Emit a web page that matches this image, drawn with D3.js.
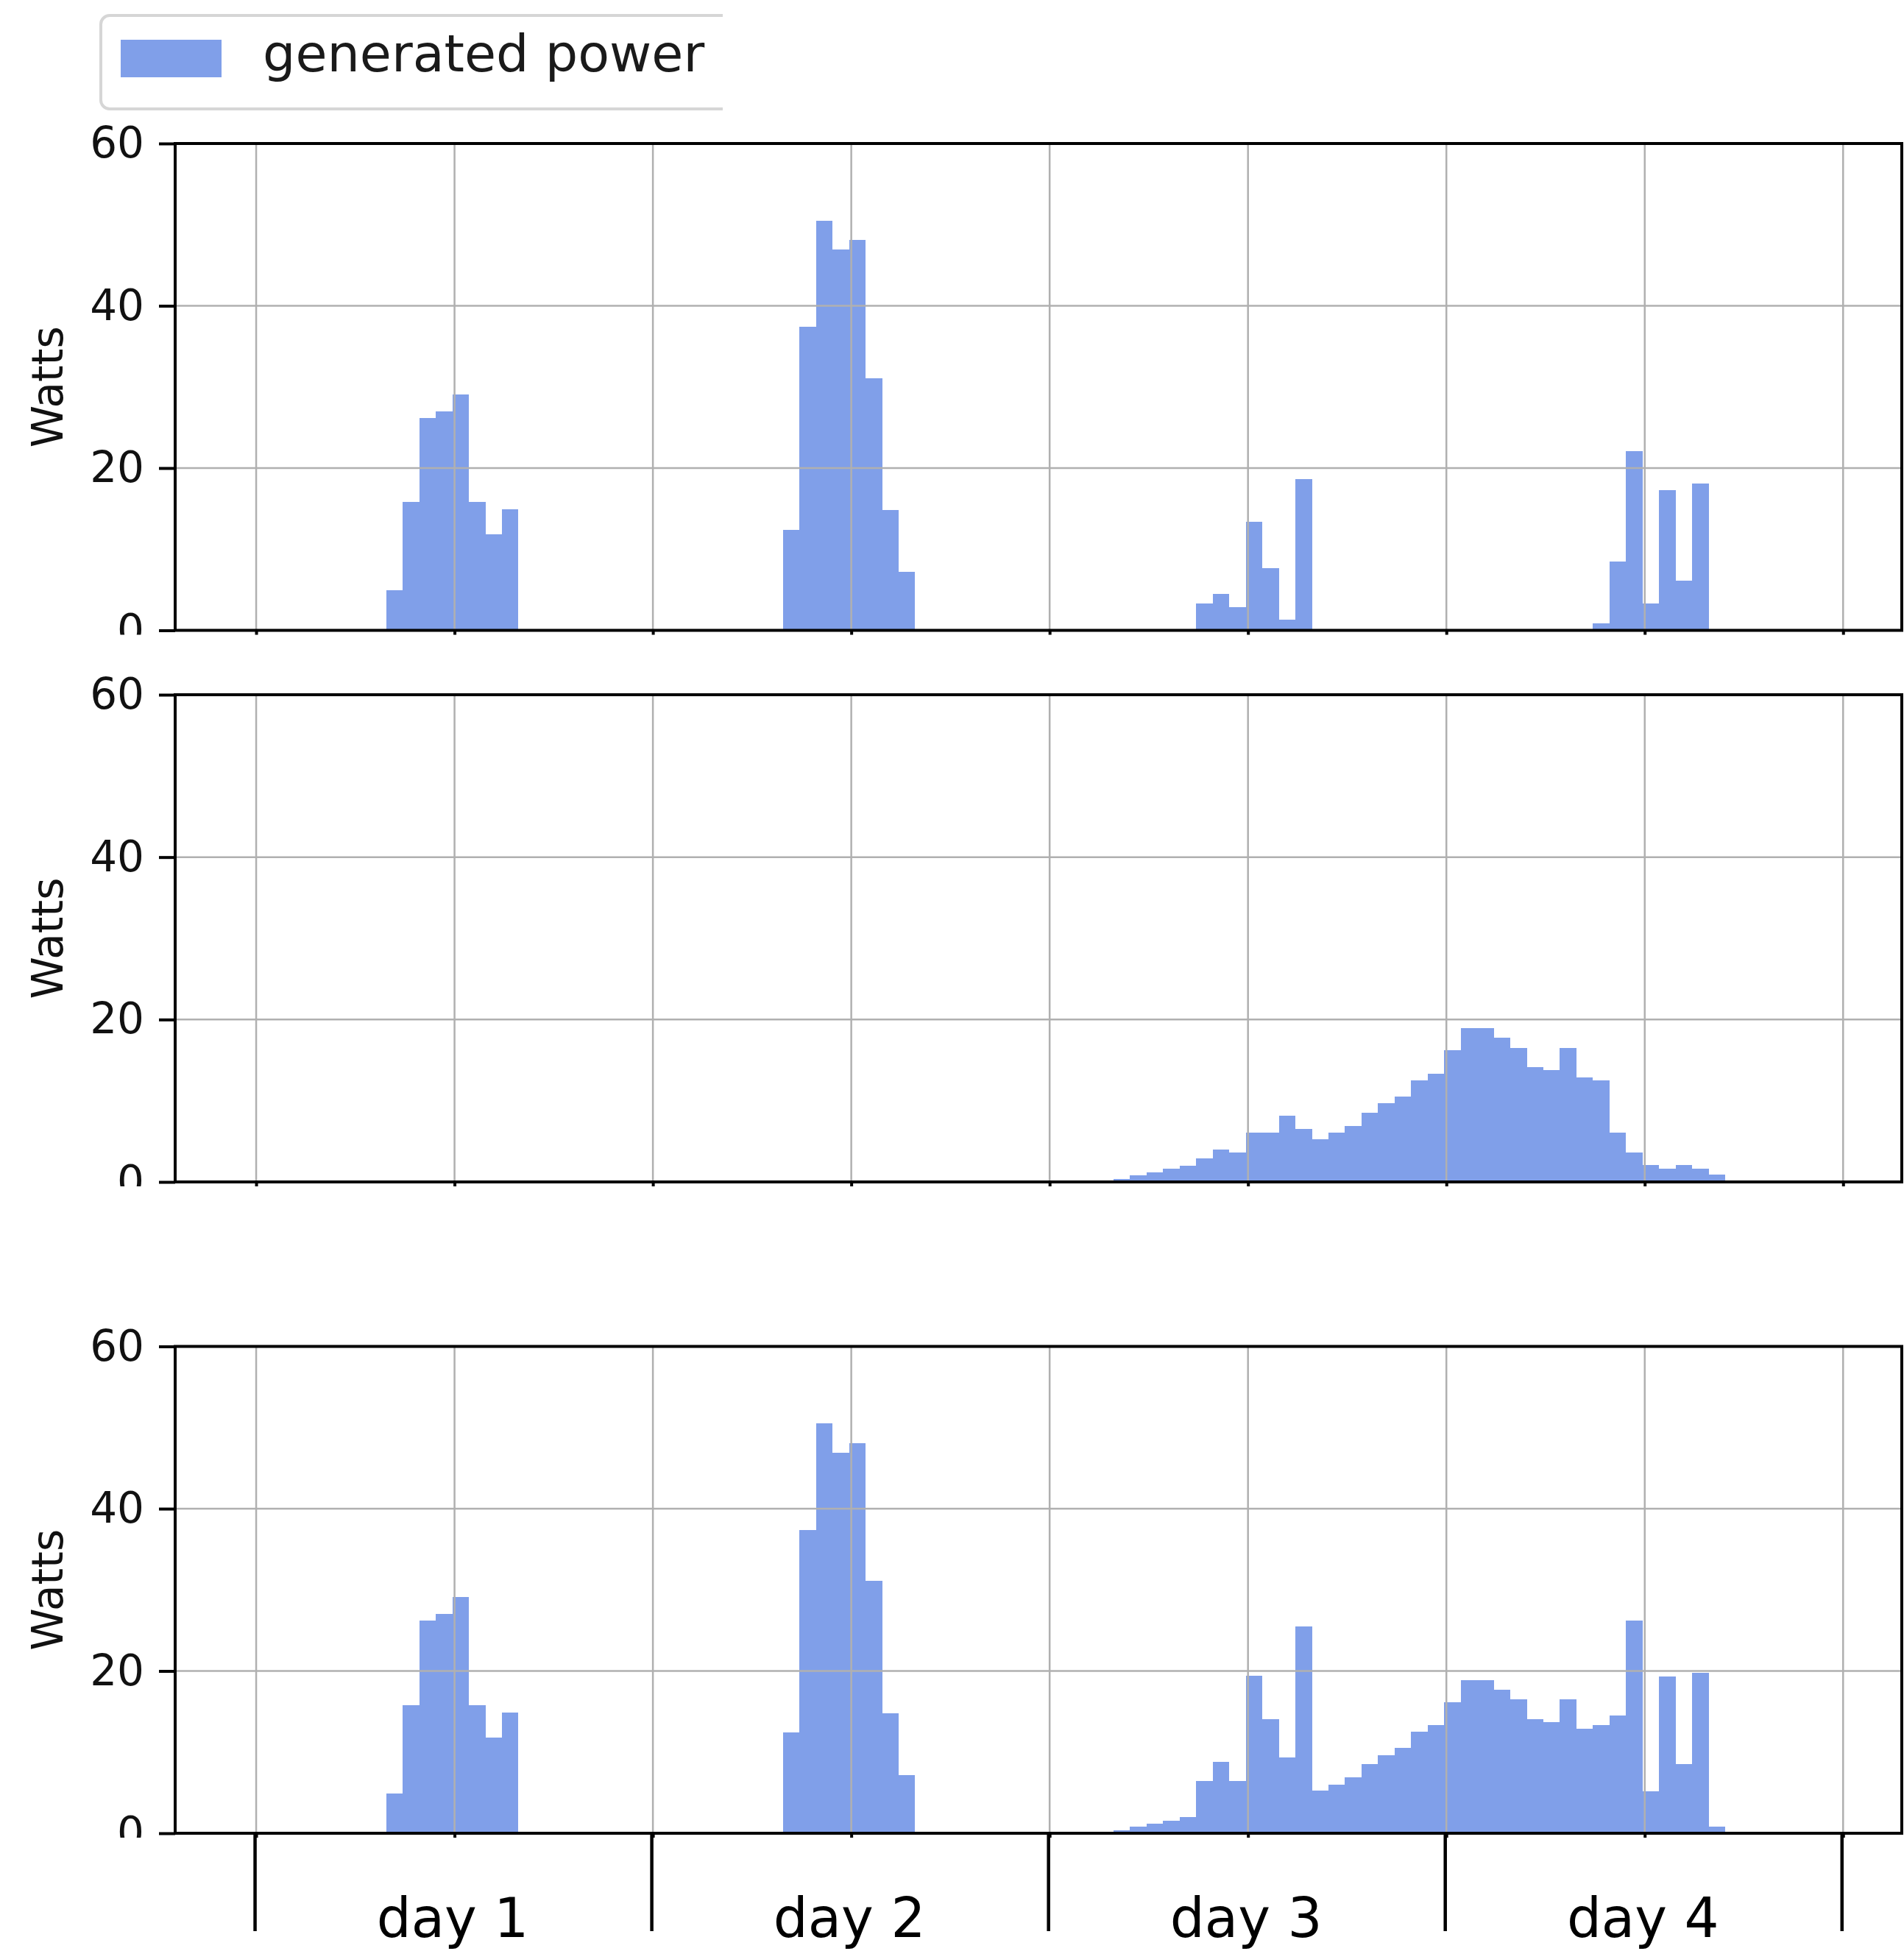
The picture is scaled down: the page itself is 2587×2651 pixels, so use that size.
<!DOCTYPE html>
<html>
<head>
<meta charset="utf-8">
<script src="https://cdn.jsdelivr.net/npm/d3@7"></script>
<style>
  body { margin: 0; background: #fff; }
  svg { display: block; }
  text { font-family: "DejaVu Sans", sans-serif; }
</style>
</head>
<body>
<script>
// ---------- data (hours counted from start of day 1) ----------
const dayNames = ["day 1", "day 2", "day 3", "day 4"];
const dayStartHours = [0, 24, 48, 72, 96];
const dayCenterHours = [12, 36, 60, 84];
const gridHours = [0, 12, 24, 36, 48, 60, 72, 84, 96];
const yTickValues = [0, 20, 40, 60];
const legendLabel = "generated power";
const yLabel = "Watts";

// top panel
const topHours = [8, 9, 10, 11, 12, 13, 14, 15,
                  32, 33, 34, 35, 36, 37, 38, 39,
                  57, 58, 59, 60, 61, 62, 63,
                  81, 82, 83, 84, 85, 86, 87];
const topWatts = [4.9, 15.8, 26.2, 27.0, 29.1, 15.8, 11.8, 14.9,
                  12.4, 37.4, 50.5, 46.9, 48.1, 31.1, 14.8, 7.2,
                  3.3, 4.5, 2.9, 13.4, 7.7, 1.3, 18.6,
                  0.9, 8.5, 22.1, 3.3, 17.3, 6.1, 18.1];

// middle panel
const midHours = [52, 53, 54, 55, 56, 57, 58, 59, 60, 61, 62, 63, 64, 65, 66, 67, 68, 69, 70, 71,
                  72, 73, 74, 75, 76, 77, 78, 79, 80, 81, 82, 83, 84, 85, 86, 87, 88];
const midWatts = [0.4, 0.8, 1.2, 1.6, 2.0, 2.9, 4.0, 3.6, 6.1, 6.1, 8.2, 6.5, 5.3, 6.1, 6.9, 8.5, 9.7, 10.5, 12.5, 13.3,
                  16.2, 18.9, 18.9, 17.8, 16.5, 14.1, 13.8, 16.5, 12.9, 12.5, 6.1, 3.6, 2.1, 1.6, 2.1, 1.6, 0.9];

// bottom panel
const botHours = [8, 9, 10, 11, 12, 13, 14, 15,
                  32, 33, 34, 35, 36, 37, 38, 39,
                  52, 53, 54, 55, 56, 57, 58, 59, 60, 61, 62, 63, 64, 65, 66, 67, 68, 69, 70, 71,
                  72, 73, 74, 75, 76, 77, 78, 79, 80, 81, 82, 83, 84, 85, 86, 87, 88];
const botWatts = [4.9, 15.8, 26.2, 27.0, 29.1, 15.8, 11.8, 14.9,
                  12.4, 37.4, 50.5, 46.9, 48.1, 31.1, 14.8, 7.2,
                  0.4, 0.8, 1.2, 1.5, 2.0, 6.4, 8.8, 6.4, 19.4, 14.1, 9.3, 25.5, 5.25, 6.0, 6.85, 8.5, 9.6, 10.5, 12.5, 13.3,
                  16.1, 18.9, 18.9, 17.7, 16.5, 14.1, 13.7, 16.5, 12.9, 13.3, 14.5, 26.2, 5.2, 19.35, 8.5, 19.8, 0.8];

// ---------- layout ----------
const W = 2587, H = 2651;
const left = 238, right = 2584;
const panelBoxes = [[195, 856.5], [944, 1606], [1829.5, 2491]];
const series = [[topHours, topWatts], [midHours, midWatts], [botHours, botWatts]];
const barColor = "#809fe9";
const gridColor = "#b0b0b0";
const barShift = -3; // bars sit slightly before the hour mark in the reference

const svg = d3.select("body").append("svg").attr("width", W).attr("height", H);
svg.append("rect").attr("width", W).attr("height", H).attr("fill", "#fff");

const x = d3.scaleLinear().domain([-4.9, 99.55]).range([left, right]);

panelBoxes.forEach(([top, bottom], i) => {
  const y = d3.scaleLinear().domain([0, 60]).range([bottom, top]);
  const clipId = "clip" + i;
  svg.append("clipPath").attr("id", clipId)
    .append("rect").attr("x", 0).attr("y", top - 80).attr("width", W).attr("height", bottom - top + 80 + 6);
  const g = svg.append("g").attr("clip-path", `url(#${clipId})`);

  const [hs, ws] = series[i];
  const data = hs.map((h, k) => ({ h, w: ws[k] }));

  // bars
  g.append("g").selectAll("rect").data(data).join("rect")
    .attr("x", d => Math.round(x(d.h)) + barShift)
    .attr("width", d => Math.round(x(d.h + 1)) - Math.round(x(d.h)))
    .attr("y", d => y(d.w))
    .attr("height", d => y(0) - y(d.w))
    .attr("fill", barColor)
    .attr("shape-rendering", "crispEdges");

  // gridlines (drawn above bars)
  g.append("g").selectAll("line").data(gridHours).join("line")
    .attr("x1", d => x(d)).attr("x2", d => x(d))
    .attr("y1", top).attr("y2", bottom)
    .attr("stroke", gridColor).attr("stroke-width", 2.5);
  g.append("g").selectAll("line").data(yTickValues).join("line")
    .attr("x1", left).attr("x2", right)
    .attr("y1", d => y(d)).attr("y2", d => y(d))
    .attr("stroke", gridColor).attr("stroke-width", 2.5);

  // x ticks (short, clipped)
  const xa = g.append("g").attr("transform", `translate(0,${bottom})`)
    .call(d3.axisBottom(x).tickValues(gridHours).tickSize(22).tickFormat(""));
  xa.select(".domain").remove();
  xa.selectAll("line").attr("stroke", "#000").attr("stroke-width", 4);

  // y axis
  const ya = g.append("g").attr("transform", `translate(${left},0)`)
    .call(d3.axisLeft(y).tickValues(yTickValues).tickSize(22).tickPadding(20));
  ya.select(".domain").remove();
  ya.selectAll("line").attr("stroke", "#000").attr("stroke-width", 4);
  ya.selectAll("text").attr("font-size", 58).attr("fill", "#111")
    .attr("font-family", "'DejaVu Sans', sans-serif");

  // spines
  g.append("rect").attr("x", left).attr("y", top)
    .attr("width", right - left).attr("height", bottom - top)
    .attr("fill", "none").attr("stroke", "#000").attr("stroke-width", 4);

  // y label
  svg.append("text")
    .attr("transform", `translate(85,${(top + bottom) / 2}) rotate(-90)`)
    .attr("text-anchor", "middle")
    .attr("font-size", 58).attr("fill", "#111")
    .text(yLabel);
});

// bottom day axis: long ticks at day boundaries, labels at day centres
const lastBottom = panelBoxes[2][1];
const dayTicks = svg.append("g").attr("transform", `translate(-2,${lastBottom})`)
  .call(d3.axisBottom(x).tickValues(dayStartHours).tickSize(133).tickFormat(""));
dayTicks.select(".domain").remove();
dayTicks.selectAll("line").attr("stroke", "#000").attr("stroke-width", 4.5);

const dayLabels = svg.append("g").attr("transform", `translate(-3,${lastBottom})`)
  .call(d3.axisBottom(x).tickValues(dayCenterHours).tickSize(0).tickPadding(88)
    .tickFormat((d, k) => dayNames[k]));
dayLabels.select(".domain").remove();
dayLabels.selectAll("text").attr("font-size", 74).attr("fill", "#000")
  .attr("font-family", "'DejaVu Sans', sans-serif");

// legend (its right part is cut off, as in the reference)
svg.append("clipPath").attr("id", "legclip")
  .append("rect").attr("x", 0).attr("y", 0).attr("width", 982).attr("height", 190);
const lg = svg.append("g").attr("clip-path", "url(#legclip)");
lg.append("rect").attr("x", 137).attr("y", 21).attr("width", 1000).attr("height", 127)
  .attr("rx", 12).attr("fill", "#fff").attr("stroke", "#d6d6d6").attr("stroke-width", 4);
lg.append("rect").attr("x", 164).attr("y", 54).attr("width", 137).attr("height", 51)
  .attr("fill", barColor);
lg.append("text").attr("x", 357).attr("y", 97).attr("font-size", 70).attr("fill", "#1a1a1a")
  .text(legendLabel);
</script>
</body>
</html>
